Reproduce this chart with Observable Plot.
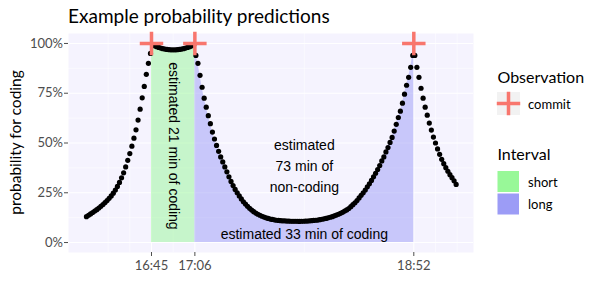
<!DOCTYPE html>
<html>
<head>
<meta charset="utf-8">
<script src="https://cdn.jsdelivr.net/npm/d3@7"></script>
<script src="https://cdn.jsdelivr.net/npm/@observablehq/plot@0.6"></script>
<style>
  html, body { margin: 0; padding: 0; background: #ffffff; }
  #chart { width: 600px; height: 300px; }
</style>
</head>
<body>
<div id="chart"></div>
<script>
// ---------------- data ----------------
const chartTitle = "Example probability predictions";
const yAxisTitle = "probability for coding";

// one prediction per minute, first sample at 16:13:30
const sampleStart = "16:13:30";
const sampleStepMinutes = 1;
const probability = [
  // before the first commit (16:13:30 – 16:44:30)
  0.130, 0.137, 0.144, 0.151, 0.158, 0.165, 0.173, 0.182, 0.191, 0.201,
  0.211, 0.222, 0.234, 0.248, 0.264, 0.282, 0.302, 0.325, 0.350, 0.380,
  0.413, 0.447, 0.484, 0.524, 0.566, 0.615, 0.670, 0.727, 0.784, 0.845,
  0.900, 0.950,
  // short interval (16:45:30 – 17:05:30)
  0.993, 0.988, 0.984, 0.980, 0.977, 0.974, 0.972, 0.970, 0.969, 0.968,
  0.968, 0.968, 0.969, 0.970, 0.972, 0.974, 0.977, 0.980, 0.984, 0.988,
  0.993,
  // long interval (17:06:30 – 18:51:30)
  0.940, 0.900, 0.840, 0.780, 0.725, 0.680, 0.637, 0.597, 0.555, 0.520,
  0.488, 0.458, 0.430, 0.405, 0.380, 0.355, 0.330, 0.307, 0.286, 0.267,
  0.250, 0.234, 0.219, 0.205, 0.193, 0.182, 0.172, 0.163, 0.155, 0.148,
  0.142, 0.137, 0.132, 0.128, 0.124, 0.121, 0.118, 0.116, 0.114, 0.112,
  0.111, 0.110, 0.109, 0.109, 0.108, 0.108, 0.107, 0.107, 0.107, 0.107,
  0.106,
  0.107, 0.107, 0.108, 0.108, 0.109, 0.110, 0.111, 0.112, 0.113, 0.115,
  0.117, 0.119, 0.121, 0.124, 0.127, 0.130, 0.134, 0.138, 0.142, 0.147,
  0.152, 0.158, 0.164, 0.171, 0.180, 0.190, 0.200, 0.211, 0.224, 0.237,
  0.250, 0.264, 0.280, 0.295, 0.312, 0.330, 0.348, 0.367, 0.387, 0.410,
  0.430, 0.455, 0.477, 0.503, 0.528, 0.560, 0.594, 0.628, 0.660, 0.700,
  0.745, 0.790, 0.830, 0.880, 0.940,
  // after the last commit (18:52:30 – 19:12:30)
  0.940, 0.880, 0.830, 0.775, 0.725, 0.680, 0.640, 0.600, 0.565, 0.530,
  0.500, 0.470, 0.443, 0.418, 0.396, 0.376, 0.358, 0.341, 0.326, 0.310,
  0.292
];

const commitTimes = ["16:45", "17:06", "18:52"];
const commitProbability = [1, 1, 1];
const observationName = "commit";

const intervalNames = ["short", "long"];
const intervalStart = ["16:45", "17:06"];
const intervalEnd = ["17:06", "18:52"];

const xTickTimes = ["16:45", "17:06", "18:52"];
const xMinorTimes = ["16:24", "16:34:30", "16:55:30", "17:59", "19:02:30", "19:13"];
const xDomainTimes = ["16:04:49", "19:20:54"];
const yTicks = [0, 0.25, 0.5, 0.75, 1];
const yMinor = [0.125, 0.375, 0.625, 0.875];
const yDomain = [-0.05, 1.05];

const noteTexts = ["estimated 21 min of coding", "estimated\n73 min of\nnon-coding", "estimated 33 min of coding"];
const noteTimes = ["16:55:30", "17:59", "17:59"];
const noteValues = [0.485, 0.395, 0.05];
const noteVertical = [true, false, false];

// ---------------- styles ----------------
const panelFill = "#f5f3fe";
const commitColor = "#F8766D";
const intervalColors = { short: "#98f898", long: "#9c9cf6" };
const textFont = "Liberation Sans, Arial, sans-serif";
const uiFont = "Lato, sans-serif";

// ---------------- build ----------------
const toDate = s => new Date(`2021-01-01T${s.length === 5 ? s + ":00" : s}Z`);
const t0 = toDate(sampleStart);
const series = probability.map((p, i) => ({ time: new Date(+t0 + i * sampleStepMinutes * 60000), p }));
const commits = commitTimes.map((t, i) => ({ time: toDate(t), p: commitProbability[i], kind: observationName }));
const commitP = new Map(commits.map(c => [+c.time, c.p]));

function intervalArea(i) {
  const a = toDate(intervalStart[i]), b = toDate(intervalEnd[i]);
  return [
    { time: a, p: commitP.get(+a) },
    ...series.filter(d => d.time > a && d.time < b),
    { time: b, p: commitP.get(+b) }
  ];
}
const notes = noteTexts.map((text, i) => ({ text, time: toDate(noteTimes[i]), value: noteValues[i], vertical: noteVertical[i] }));

const chart = Plot.plot({
  width: 600,
  height: 300,
  marginLeft: 68,
  marginRight: 127,
  marginTop: 33,
  marginBottom: 48,
  style: { fontFamily: uiFont, color: "#4d4d4d", background: "#ffffff" },
  x: { type: "utc", domain: xDomainTimes.map(toDate) },
  y: { domain: yDomain },
  marks: [
    Plot.frame({ fill: panelFill, stroke: "none" }),
    Plot.ruleX(xMinorTimes.map(toDate), { stroke: "#ffffff", strokeWidth: 0.55 }),
    Plot.ruleY(yMinor, { stroke: "#ffffff", strokeWidth: 0.55 }),
    Plot.ruleX(xTickTimes.map(toDate), { stroke: "#ffffff", strokeWidth: 1.1 }),
    Plot.ruleY(yTicks, { stroke: "#ffffff", strokeWidth: 1.1 }),
    Plot.areaY(intervalArea(0), { x: "time", y: "p", fill: intervalColors[intervalNames[0]], fillOpacity: 0.5 }),
    Plot.areaY(intervalArea(1), { x: "time", y: "p", fill: intervalColors[intervalNames[1]], fillOpacity: 0.5 }),
    Plot.dot(series, { x: "time", y: "p", r: 2.6, fill: "#000000" }),
    Plot.dot(commits, { x: "time", y: "p", symbol: "plus", r: 7.6, stroke: commitColor, strokeWidth: 3.5 }),
    Plot.text(notes.filter(d => d.vertical), { x: "time", y: "value", text: "text", rotate: 90, fontSize: 14, fontFamily: textFont, fill: "#000000" }),
    Plot.text(notes.filter(d => !d.vertical), { x: "time", y: "value", text: "text", fontSize: 14, lineHeight: 1.5, fontFamily: textFont, fill: "#000000" }),
    Plot.axisX(xTickTimes.map(toDate), { anchor: "bottom", tickSize: 4, tickPadding: 4, tickFormat: d3.utcFormat("%H:%M"), fontSize: 13, fontFamily: uiFont, fontVariant: "normal", label: null }),
    Plot.axisY(yTicks, { anchor: "left", tickSize: 4, tickPadding: 1.5, tickFormat: d3.format(".0%"), fontSize: 13, fontFamily: uiFont, fontVariant: "normal", label: null })
  ]
});

document.getElementById("chart").appendChild(chart);

// ---------------- titles and legend ----------------
const svg = d3.select(chart);
svg.append("text")
  .attr("x", 68).attr("y", 23)
  .attr("text-anchor", "start")
  .attr("font-family", uiFont).attr("font-size", 19).attr("fill", "#000000")
  .text(chartTitle);

svg.append("text")
  .attr("transform", "translate(20.5,142.5) rotate(-90)")
  .attr("text-anchor", "middle")
  .attr("font-family", uiFont).attr("font-size", 15.5).attr("fill", "#000000")
  .text(yAxisTitle);

const lg = svg.append("g").attr("font-family", uiFont).attr("fill", "#000000").attr("text-anchor", "start");
lg.append("text").attr("x", 497.5).attr("y", 82.5).attr("font-size", 16).text("Observation");
lg.append("rect").attr("x", 497).attr("y", 92).attr("width", 23).attr("height", 23).attr("fill", "#f2f2f2");
lg.append("path")
  .attr("transform", "translate(508.5,103.5)")
  .attr("d", d3.symbol(d3.symbolPlus, 7.6 * 7.6 * Math.PI)())
  .attr("fill", "none").attr("stroke", commitColor).attr("stroke-width", 3.5);
lg.append("text").attr("x", 528).attr("y", 108.5).attr("font-size", 13).text(observationName);

lg.append("text").attr("x", 497.5).attr("y", 160).attr("font-size", 16).text("Interval");
intervalNames.forEach((name, i) => {
  const y = 171 + i * 22.5;
  lg.append("rect").attr("x", 497.5).attr("y", y).attr("width", 21.5).attr("height", 21)
    .attr("fill", intervalColors[name]);
  lg.append("text").attr("x", 528).attr("y", y + 15.5).attr("font-size", 13).text(name);
});
</script>
</body>
</html>
